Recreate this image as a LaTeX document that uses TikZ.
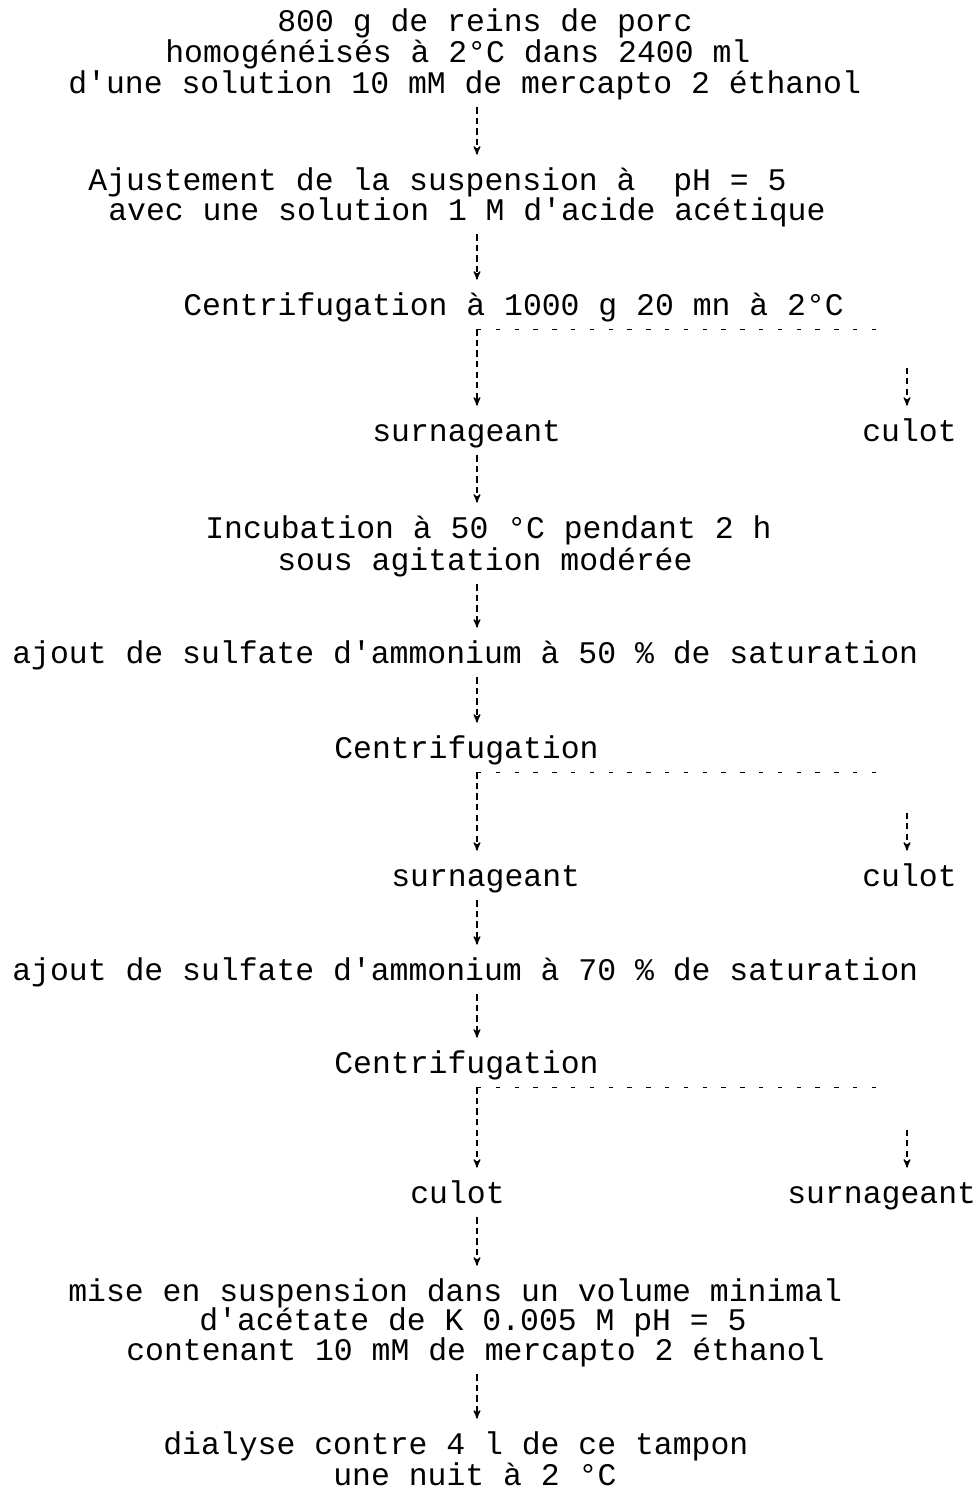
\documentclass[tikz,border=0pt]{standalone}
\usepackage{fontspec}
\setmonofont{Liberation Mono}
\usepackage{tikz}
\usetikzlibrary{arrows,calc}
\tikzset{
>=stealth', % small filled heads as on the typed sheet
every node/.style={inner sep=0pt, anchor=base west, text height=0.7cm, text depth=0.28cm,
  font=\ttfamily\fontsize{17.9}{31}\selectfont}, % one line of typed text per node
flow/.style={->, line width=0.75pt, dash pattern=on 3.5pt off 2.5pt}, % dashed step arrows
split/.style={line width=0.7pt, dash pattern=on 2.5pt off 8.2pt}, % branch towards the right
}
\frenchspacing

\begin{document}
\begin{tikzpicture}[x=0.02cm, y=-0.02cm]
\useasboundingbox (0,0) rectangle (979,1489);
\coordinate (axis) at (477,0);
\coordinate (side) at (907,0);
\coordinate (hend) at (890,0);

\node (a1) at (277,31) {800 g de reins de porc};
\node (a2) at (165,62) {homogénéisés à 2°C dans 2400 ml};
\node (a3) at (68,93) {d'une solution 10 mM de mercapto 2 éthanol};
\node (b1) at (88,190) {Ajustement de la suspension à\ \ pH = 5};
\node (b2) at (108,220) {avec une solution 1 M d'acide acétique};
\node (c1) at (183,315) {Centrifugation à 1000 g 20 mn à 2°C};
\node (s1) at (372,441) {surnageant};
\node (k1) at (862,441) {culot};
\node (d1) at (205,538) {Incubation à 50 °C pendant 2 h};
\node (d2) at (277,570) {sous agitation modérée};
\node (e1) at (12,663) {ajout de sulfate d'ammonium à 50 \% de saturation};
\node (c2) at (334,758) {Centrifugation};
\node (s2) at (391,886) {surnageant};
\node (k2) at (862,886) {culot};
\node (f1) at (12,980) {ajout de sulfate d'ammonium à 70 \% de saturation};
\node (c3) at (334,1073) {Centrifugation};
\node (k3) at (410,1203) {culot};
\node (s3) at (787,1203) {surnageant};
\node (g1) at (68,1301) {mise en suspension dans un volume minimal};
\node (g2) at (199,1330) {d'acétate de K 0.005 M pH = 5};
\node (g3) at (126,1360) {contenant 10 mM de mercapto 2 éthanol};
\node (h1) at (163,1454) {dialyse contre 4 l de ce tampon};
\node (h2) at (333,1485) {une nuit à 2 °C};

% main line
\draw[flow] (a3.south -| axis) -- (b1.north -| axis);
\draw[flow] (b2.south -| axis) -- (c1.north -| axis);
\draw[flow] (c1.south -| axis) -- (s1.north -| axis);
\draw[flow] (s1.south -| axis) -- (d1.north -| axis);
\draw[flow] (d2.south -| axis) -- (e1.north -| axis);
\draw[flow] (e1.south -| axis) -- (c2.north -| axis);
\draw[flow] (c2.south -| axis) -- (s2.north -| axis);
\draw[flow] (s2.south -| axis) -- (f1.north -| axis);
\draw[flow] (f1.south -| axis) -- (c3.north -| axis);
\draw[flow] (c3.south -| axis) -- (k3.north -| axis);
\draw[flow] (k3.south -| axis) -- (g1.north -| axis);
\draw[flow] (g3.south -| axis) -- (h1.north -| axis);

% side branches
\draw[split] (c1.south -| axis) -- (c1.south -| hend);
\draw[flow] ($(k1.north -| side)+(0,-38)$) -- (k1.north -| side);
\draw[split] (c2.south -| axis) -- (c2.south -| hend);
\draw[flow] ($(k2.north -| side)+(0,-38)$) -- (k2.north -| side);
\draw[split] (c3.south -| axis) -- (c3.south -| hend);
\draw[flow] ($(s3.north -| side)+(0,-38)$) -- (s3.north -| side);
\end{tikzpicture}
\end{document}
